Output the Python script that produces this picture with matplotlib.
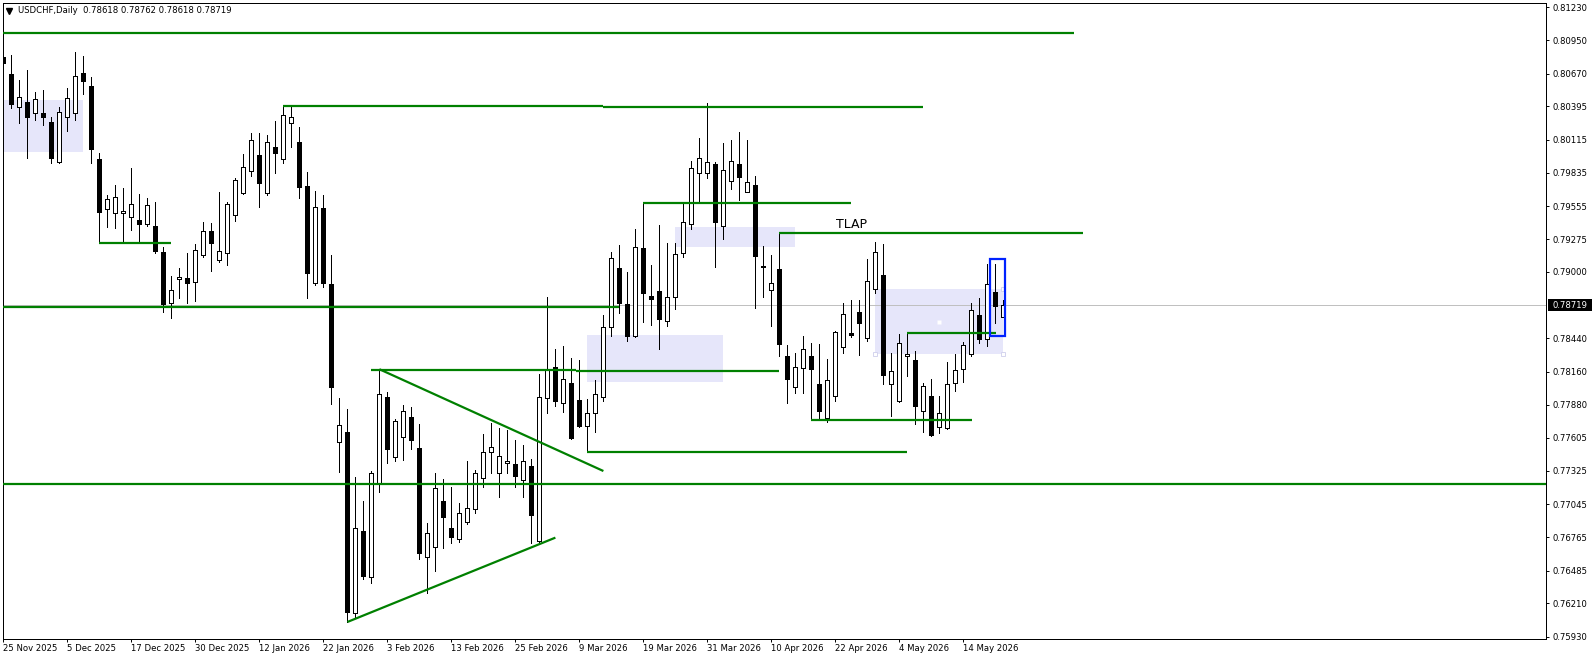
import numpy as np
import matplotlib.pyplot as plt
from matplotlib.patches import Rectangle
from matplotlib import transforms

plt.rcParams['font.family'] = ['DejaVu Sans']
plt.rcParams['font.size'] = 6.1

# daily bars, first bar = 25 Nov 2025
opens = [0.80810, 0.80667, 0.80389, 0.80431, 0.80339, 0.80339, 0.80263, 0.79926, 0.80305, 0.80339,
         0.80675, 0.80566, 0.79951, 0.79530, 0.79497, 0.79497, 0.79463, 0.79438, 0.79404, 0.79387,
         0.79168, 0.78739, 0.78941, 0.78949, 0.78916, 0.79143, 0.79345, 0.79101, 0.79160, 0.79480,
         0.79665, 0.79850, 0.79985, 0.79665, 0.80052, 0.79951, 0.80254, 0.80094, 0.79724, 0.78907,
         0.79539, 0.78899, 0.77568, 0.77653, 0.76129, 0.76819, 0.76432, 0.77215, 0.77947, 0.77442,
         0.77610, 0.77779, 0.77518, 0.76600, 0.76684, 0.77072, 0.76844, 0.76752, 0.76895, 0.77004,
         0.77265, 0.77484, 0.77307, 0.77392, 0.77383, 0.77248, 0.77366, 0.76735, 0.77939, 0.78200,
         0.77897, 0.78065, 0.77922, 0.77703, 0.77813, 0.77947, 0.78537, 0.79033, 0.78730, 0.78461,
         0.79202, 0.78798, 0.78840, 0.78587, 0.78789, 0.79160, 0.79404, 0.79833, 0.79833, 0.79909,
         0.79387, 0.79766, 0.79909, 0.79673, 0.79732, 0.79042, 0.78848, 0.79025, 0.78292, 0.78031,
         0.78191, 0.78292, 0.78057, 0.77770, 0.77956, 0.78368, 0.78486, 0.78663, 0.78444, 0.78857,
         0.78975, 0.78057, 0.77914, 0.78292, 0.78259, 0.77829, 0.77956, 0.77695, 0.77686, 0.78065,
         0.78183, 0.78309, 0.78638, 0.78436, 0.78831, 0.78618]
highs = [0.81012, 0.80827, 0.80616, 0.80701, 0.80515, 0.80532, 0.80305, 0.80389, 0.80549, 0.80852,
         0.80818, 0.80642, 0.80002, 0.79648, 0.79732, 0.79707, 0.79875, 0.79657, 0.79623, 0.79589,
         0.79210, 0.78966, 0.79033, 0.79160, 0.79236, 0.79421, 0.79412, 0.79673, 0.79589, 0.79791,
         0.79993, 0.80170, 0.80170, 0.80153, 0.80271, 0.80406, 0.80389, 0.80221, 0.79842, 0.79682,
         0.79648, 0.79143, 0.77939, 0.77846, 0.77274, 0.77072, 0.77324, 0.78183, 0.77989, 0.77762,
         0.77880, 0.77863, 0.77720, 0.76886, 0.77307, 0.77257, 0.77190, 0.77055, 0.77408, 0.77333,
         0.77636, 0.77728, 0.77686, 0.77669, 0.77585, 0.77543, 0.77425, 0.78141, 0.78789, 0.78351,
         0.78377, 0.78276, 0.78259, 0.77930, 0.78090, 0.78638, 0.79168, 0.79227, 0.79000, 0.79362,
         0.79581, 0.79059, 0.79396, 0.79244, 0.79244, 0.79581, 0.79934, 0.80128, 0.80423, 0.79926,
         0.80086, 0.80111, 0.80179, 0.80111, 0.79808, 0.79219, 0.79143, 0.79328, 0.78385, 0.78318,
         0.78461, 0.78402, 0.78393, 0.78267, 0.78503, 0.78739, 0.78764, 0.78764, 0.79109, 0.79252,
         0.79236, 0.78318, 0.78478, 0.78486, 0.78335, 0.78065, 0.78099, 0.77956, 0.78242, 0.78309,
         0.78410, 0.78739, 0.78781, 0.79067, 0.79067, 0.78762]
lows = [0.80574, 0.80381, 0.80254, 0.79960, 0.80280, 0.80238, 0.79918, 0.79918, 0.80187, 0.80280,
        0.80499, 0.79918, 0.79244, 0.79379, 0.79370, 0.79252, 0.79353, 0.79252, 0.79387, 0.79160,
        0.78663, 0.78612, 0.78781, 0.78739, 0.78756, 0.79126, 0.79008, 0.79084, 0.79059, 0.79429,
        0.79660, 0.79808, 0.79547, 0.79648, 0.79833, 0.79918, 0.80052, 0.79623, 0.78781, 0.78890,
        0.78870, 0.77888, 0.77316, 0.76053, 0.76095, 0.76415, 0.76381, 0.77147, 0.77392, 0.77408,
        0.77417, 0.77509, 0.76583, 0.76297, 0.76482, 0.76676, 0.76718, 0.76726, 0.76878, 0.76971,
        0.77190, 0.77307, 0.77105, 0.77307, 0.77190, 0.77105, 0.76718, 0.76726, 0.77813, 0.77871,
        0.77821, 0.77595, 0.77695, 0.77484, 0.77653, 0.77914, 0.78461, 0.78655, 0.78419, 0.78452,
        0.78579, 0.78554, 0.78351, 0.78545, 0.78688, 0.79126, 0.79362, 0.79581, 0.79791, 0.79042,
        0.79278, 0.79699, 0.79606, 0.79670, 0.78697, 0.78789, 0.78545, 0.78292, 0.77897, 0.77981,
        0.77981, 0.77754, 0.77754, 0.77737, 0.77914, 0.78318, 0.78452, 0.78301, 0.78419, 0.78823,
        0.78057, 0.77787, 0.77905, 0.78124, 0.77720, 0.77653, 0.77619, 0.77644, 0.77678, 0.77998,
        0.78074, 0.78292, 0.78402, 0.78377, 0.78570, 0.78618]
closes = [0.80760, 0.80414, 0.80473, 0.80305, 0.80456, 0.80305, 0.79960, 0.80347, 0.80465, 0.80650,
          0.80608, 0.80035, 0.79505, 0.79614, 0.79631, 0.79513, 0.79572, 0.79404, 0.79564, 0.79177,
          0.78730, 0.78848, 0.78958, 0.78907, 0.79185, 0.79345, 0.79244, 0.79177, 0.79572, 0.79774,
          0.79884, 0.80111, 0.79749, 0.80094, 0.80002, 0.80322, 0.80305, 0.79715, 0.78991, 0.79547,
          0.78907, 0.78031, 0.77712, 0.76137, 0.76844, 0.76440, 0.77307, 0.77973, 0.77509, 0.77745,
          0.77829, 0.77585, 0.76634, 0.76802, 0.77181, 0.76937, 0.76768, 0.76971, 0.77013, 0.77307,
          0.77484, 0.77526, 0.77450, 0.77408, 0.77282, 0.77408, 0.76954, 0.77947, 0.78183, 0.77914,
          0.78099, 0.77602, 0.77703, 0.77813, 0.77973, 0.78537, 0.79118, 0.78739, 0.78461, 0.79210,
          0.78823, 0.78772, 0.78604, 0.78789, 0.79151, 0.79421, 0.79875, 0.79960, 0.79926, 0.79421,
          0.79859, 0.79934, 0.79800, 0.79758, 0.79135, 0.79050, 0.78907, 0.78393, 0.78099, 0.78200,
          0.78351, 0.78183, 0.77829, 0.78090, 0.78495, 0.78646, 0.78469, 0.78570, 0.78924, 0.79168,
          0.78133, 0.78166, 0.78402, 0.78309, 0.77871, 0.78040, 0.77627, 0.77813, 0.78057, 0.78175,
          0.78385, 0.78680, 0.78436, 0.78899, 0.78713, 0.78719]

date_labels = ['25 Nov 2025', '5 Dec 2025', '17 Dec 2025', '30 Dec 2025', '12 Jan 2026',
               '22 Jan 2026', '3 Feb 2026', '13 Feb 2026', '25 Feb 2026', '9 Mar 2026',
               '19 Mar 2026', '31 Mar 2026', '10 Apr 2026', '22 Apr 2026', '4 May 2026',
               '14 May 2026']
price_ticks = [0.81230, 0.80950, 0.80670, 0.80395, 0.80115, 0.79835, 0.79555, 0.79275, 0.79000,
               0.78440, 0.78160, 0.77880, 0.77605, 0.77325, 0.77045, 0.76765, 0.76485, 0.76210,
               0.75930]
last_price = 0.78719
header = 'USDCHF,Daily  0.78618 0.78762 0.78618 0.78719'

# trend lines drawn on the chart: (bar from, price from, bar to, price to)
green_lines = [
    (-0.2, 0.81010, 133.8, 0.81010),
    (35, 0.80400, 75, 0.80400),
    (75, 0.80392, 114.9, 0.80392),
    (80, 0.79583, 105.9, 0.79583),
    (97, 0.79331, 135, 0.79331),
    (12, 0.79246, 21, 0.79246),
    (-1, 0.78708, 77, 0.78708),
    (-1, 0.77211, 200, 0.77211),
    (46, 0.78175, 71.6, 0.78175),
    (71.6, 0.78168, 97, 0.78168),
    (73, 0.77487, 112.9, 0.77487),
    (101, 0.77754, 121.1, 0.77754),
    (113, 0.78489, 124.1, 0.78489),
    (47, 0.78181, 75, 0.77324),
    (43, 0.76053, 69, 0.76763),
]
# shaded zones: (bar from, bar to, price low, price high)
zones = [
    (-0.2, 9.9, 0.80013, 0.80448),
    (83.95, 98.95, 0.79213, 0.79379),
    (72.95, 89.9, 0.78076, 0.78469),
    (108.95, 125.0, 0.78309, 0.78854),
]
blue_box = (123.3, 125.2, 0.78461, 0.79109)

o = np.array(opens)
h = np.array(highs)
l = np.array(lows)
c = np.array(closes)
x = np.arange(len(o))

fig = plt.figure(figsize=(15.92, 6.59), dpi=100)
ax = fig.add_axes([2.5/1592, 1-638.6/659, 1543.2/1592, 635.9/659])
ax.set_xlim(-0.1125, 192.79)
ax.set_ylim(0.75913, 0.81267)

for x0, x1, p0, p1 in zones:
    ax.add_patch(Rectangle((x0, p0), x1-x0, p1-p0, facecolor='#E6E6FA', edgecolor='none',
                           antialiased=False, zorder=0.5))

# handles of the selected zone
z = zones[3]
ax.plot([z[0], z[1], z[1]], [z[2], z[2], z[3]], ls='none', marker='s', ms=3.2,
        mfc='white', mec='#D4D4EE', mew=0.7, zorder=1.2)
ax.plot([(z[0]+z[1])/2], [(z[2]+z[3])/2], ls='none', marker='s', ms=2.2,
        mfc='white', mec='none', zorder=1.2)

ax.axhline(last_price, color='#C0C0C0', lw=0.7, antialiased=False, zorder=1)

# candles
up = c >= o
ax.vlines(x, l, h, color='black', lw=0.7, antialiased=False, zorder=2)
body = np.maximum(np.abs(c-o), 0.00001)
bars = ax.bar(x, body, bottom=np.minimum(o, c), width=0.5, color=np.where(up, 'white', 'black'),
              edgecolor='black', linewidth=0.7, zorder=3)
for p in bars:
    p.set_antialiased(False)

for x0, p0, x1, p1 in green_lines:
    ax.plot([x0, x1], [p0, p1], color='#008000', lw=1.6, solid_capstyle='butt', zorder=4)

b = blue_box
ax.add_patch(Rectangle((b[0], b[2]), b[1]-b[0], b[3]-b[2], fill=False, edgecolor='#0022FF',
                       lw=1.6, zorder=5))

ax.text(104.1, 0.79368, 'TLAP', fontsize=9, color='black', va='baseline', ha='left', zorder=6)

# axes
for s in ax.spines.values():
    s.set_linewidth(0.7)
    s.set_antialiased(False)
ax.yaxis.tick_right()
ax.set_yticks(price_ticks)
ax.set_yticklabels(['%.5f' % p for p in price_ticks])
ax.tick_params(axis='y', direction='out', length=2.2, width=0.7, pad=2.6, labelsize=6.1)
ax.set_xticks(np.arange(0, 8*len(date_labels), 8))
ax.set_xticklabels(date_labels)
ax.tick_params(axis='x', direction='out', length=2.2, width=0.7, pad=1.5, labelsize=6.1)
for t in ax.get_xticklabels():
    t.set_ha('left')

# current price marker on the scale
tr = transforms.blended_transform_factory(ax.transAxes, ax.transData)
ax.add_patch(Rectangle((1.0013, last_price-0.00051), 0.03, 0.00101, transform=tr,
                       facecolor='black', edgecolor='none', clip_on=False, zorder=6))
ax.text(1.0043, last_price, '%.5f' % last_price, transform=tr, color='white', fontsize=6.1,
        va='center', ha='left', zorder=7)

# header
fig.text(18/1592, 1-10.7/659, header, fontsize=6.1, va='center', ha='left')
fig.lines.append(plt.Line2D([9.3/1592], [1-10.9/659], transform=fig.transFigure, marker='v',
                            ms=4, color='black', ls='none'))

fig.savefig('out.png', dpi=100, facecolor='white')
